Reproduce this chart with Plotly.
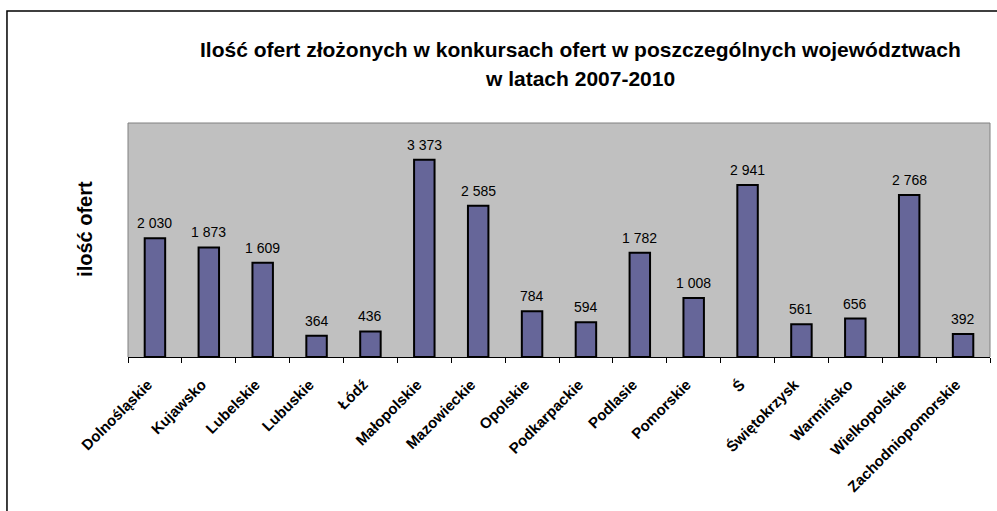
import plotly.graph_objects as go

categories = ["Dolnośląskie", "Kujawsko", "Lubelskie", "Lubuskie", "Łódź",
              "Małopolskie", "Mazowieckie", "Opolskie", "Podkarpackie",
              "Podlasie", "Pomorskie", "Ś", "Świętokrzysk", "Warmińsko",
              "Wielkopolskie", "Zachodniopomorskie"]
offers = [2030, 1873, 1609, 364, 436, 3373, 2585, 784, 594, 1782, 1008,
          2941, 561, 656, 2768, 392]
value_labels = ["2 030", "1 873", "1 609", "364", "436", "3 373", "2 585",
                "784", "594", "1 782", "1 008", "2 941", "561", "656",
                "2 768", "392"]

title_line1 = "Ilość ofert złożonych w konkursach ofert w poszczególnych województwach"
title_line2 = "w latach 2007-2010"
y_title = "ilość ofert"

FONT = "Arial, Liberation Sans, sans-serif"

fig = go.Figure()
fig.add_trace(go.Bar(
    x=categories, y=offers,
    marker=dict(color="#666699", line=dict(color="black", width=2)),
    hoverinfo="x+y",
))

annotations = []
for c, v, t in zip(categories, offers, value_labels):
    annotations.append(dict(x=c, y=v, text=t, showarrow=False, yanchor="bottom",
                            yshift=5, font=dict(family=FONT, size=14, color="black")))
annotations.append(dict(xref="paper", yref="paper", x=0.5244, y=1.316,
                        text=title_line1, showarrow=False, xanchor="center",
                        yanchor="middle",
                        font=dict(family=FONT, size=21, color="black", weight="bold")))
annotations.append(dict(xref="paper", yref="paper", x=0.5244, y=1.192,
                        text=title_line2, showarrow=False, xanchor="center",
                        yanchor="middle",
                        font=dict(family=FONT, size=21, color="black", weight="bold")))
annotations.append(dict(xref="paper", yref="paper", x=-0.05, y=0.547,
                        text=y_title, showarrow=False, textangle=-90,
                        xanchor="center", yanchor="middle",
                        font=dict(family=FONT, size=20, color="black", weight="bold")))

fig.update_layout(
    width=997, height=511,
    margin=dict(l=128, r=7, t=123, b=154),
    paper_bgcolor="white", plot_bgcolor="#C0C0C0",
    bargap=0.62, showlegend=False,
    separators=", ",
    font=dict(family=FONT, color="black"),
    annotations=annotations,
    xaxis=dict(type="category", showline=True, linecolor="black", linewidth=1,
               ticks="outside", tickson="boundaries", ticklen=5,
               tickcolor="black", tickwidth=1, tickangle=-45,
               ticklabelstandoff=12, ticklabelshift=-7,
               tickfont=dict(family=FONT, size=15, color="black", weight="bold"),
               showgrid=False),
    yaxis=dict(range=[0, 4000], showticklabels=False, showgrid=False,
               zeroline=False, showline=False, ticks=""),
    shapes=[
        dict(type="path", xref="paper", yref="paper",
             path="M 0 0 L 0 1 L 1 1 L 1 0",
             line=dict(color="#808080", width=1), layer="above"),
        dict(type="rect", xref="paper", yref="paper",
             x0=-0.1404, x1=1.5, y0=-2, y1=1.4786,
             line=dict(color="black", width=1.5), layer="above"),
    ],
)

fig.write_html("out.html", config={"displayModeBar": False},
               post_script="document.body.style.margin='0';")
